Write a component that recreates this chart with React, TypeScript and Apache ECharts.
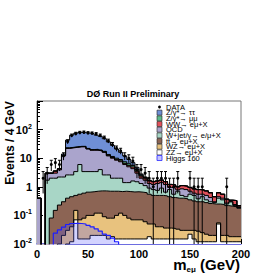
import React, { useEffect, useRef } from 'react';
import * as echarts from 'echarts';

// bin edges (GeV), 4 GeV bins
const edges = [0, 4, 8, 12, 16, 20, 24, 28, 32, 36, 40, 44, 48, 52, 56, 60, 64, 68, 72, 76, 80, 84, 88, 92, 96, 100,
  104, 108, 112, 116, 120, 124, 128, 132, 136, 140, 144, 148, 152, 156, 160, 164, 168, 172, 176, 180, 184, 188, 192, 196, 200];

// background components (events / bin), stacked bottom -> top
const zz = [0.001, 0.001, 0.001, 0.001, 0.001, 0.005, 0.008, 0.01, 0.012, 0.07, 0.015, 0.015, 0.015, 0.02, 0.02, 0.02, 0.02, 0.015, 0.018, 0.015,
  0.015, 0.015, 0.015, 0.015, 0.015, 0.015, 0.015, 0.018, 0.015, 0.015, 0.015, 0.015, 0.015, 0.015, 0.015, 0.015, 0.015, 0.022, 0.015, 0.012,
  0.012, 0.012, 0.012, 0.012, 0.05, 0.012, 0.012, 0.012, 0.012, 0.012];
const wz = [0, 0, 0, 0, 0.004, 0.005, 0.012, 0.02, 0.028, 0.08, 0.055, 0.065, 0.085, 0.08, 0.1, 0.1, 0.07, 0.065, 0.062, 0.085,
  0.105, 0.085, 0.065, 0.055, 0.055, 0.055, 0.045, 0.032, 0.035, 0.025, 0.025, 0.021, 0.021, 0.02, 0.018, 0.015, 0.015, 0.008, 0.015, 0.016,
  0.013, 0.01, 0.008, 0.008, 0.005, 0.008, 0.008, 0.006, 0.006, 0.006];
const ttbar = [0, 0, 0, 0.08, 0.145, 0.22, 0.28, 0.37, 0.41, 0.35, 0.48, 0.52, 0.55, 0.57, 0.58, 0.6, 0.63, 0.62, 0.62, 0.6,
  0.56, 0.6, 0.6, 0.59, 0.6, 0.58, 0.56, 0.5, 0.45, 0.46, 0.46, 0.444, 0.414, 0.385, 0.367, 0.37, 0.35, 0.32, 0.29, 0.272,
  0.275, 0.258, 0.24, 0.23, 0.195, 0.22, 0.2, 0.192, 0.182, 0.16];
const wjet = [0, 0, 1.7, 1.92, 1.85, 1.97, 1.9, 2.2, 2.15, 2.9, 5.45, 2.8, 2.75, 2.73, 2.7, 3.28, 1.88, 1.9, 1.3, 1.3,
  1.32, 0.7, 0.72, 0.94, 0.83, 0.65, 0.48, 0.35, 0.3, 0.25, 0.4, 0.17, 0.35, 0.13, 0.3, 0.1, 0.07, 0.2, 0.18, 0.08,
  0.15, 0.07, 0.04, 0.03, 0.15, 0.11, 0.03, 0.09, 0.02, 0.01];
const qcd = [0.4, 0, 1.3, 1.0, 1.0, 1.7, 9.8, 19.4, 20.4, 20.6, 19, 21.6, 17.6, 15.6, 15.6, 14, 13.4, 9.4, 8, 6.5,
  5.5, 4.6, 3.6, 2.7, 1.5, 0.7, 0.6, 0.4, 0.4, 0.55, 0.5, 0.55, 0.15, 0.35, 0.08, 0.35, 0.35, 0.15, 0.1, 0.17,
  0.1, 0.15, 0.12, 0.02, 0.05, 0.05, 0.02, 0, 0.02, 0.01];
const ww = [0, 0, 0, 0, 0.5, 0.3, 0.4, 0.5, 0.5, 0.5, 0.5, 0.5, 0.5, 0.5, 0.5, 0.6, 0.6, 0.6, 0.6, 0.6,
  0.6, 0.6, 0.6, 0.6, 0.5, 0.4, 0.3, 0.3, 0.3, 0.3, 0.3, 0.3, 0.25, 0.25, 0.22, 0.25, 0.25, 0.25, 0.25, 0.25,
  0.23, 0.22, 0.2, 0.15, 0.17, 0.15, 0.1, 0.04, 0.09, 0.02];
const zmumu = [0, 0, 0, 0, 0.1, 0.1, 0.4, 0.5, 0.5, 0.5, 0.5, 0.5, 0.5, 0.5, 1.0, 0.7, 0.8, 0.9, 0.9, 0.9,
  0.9, 0.9, 0.8, 0.7, 0.5, 0.2, 0.1, 0.05, 0.02, 0.02, 0.02, 0.01, 0.01, 0.01, 0, 0, 0, 0, 0, 0,
  0, 0, 0, 0, 0, 0, 0, 0, 0, 0];
const ztautau = [0, 0, 0, 0, 0, 0, 1.2, 20, 40, 50, 54, 52, 54, 52, 43.5, 38.7, 30.6, 23.5, 16.5, 11,
  7, 4.5, 2.6, 1.4, 0.8, 0.2, 0.1, 0.05, 0.03, 0.02, 0.02, 0.01, 0.01, 0.01, 0, 0, 0, 0, 0, 0,
  0, 0, 0, 0, 0, 0, 0, 0, 0, 0];
// signal, not stacked
const higgs160 = [0, 0, 0, 0, 0.024, 0.031, 0.039, 0.048, 0.052, 0.053, 0.052, 0.05, 0.045, 0.04, 0.034, 0.028, 0.022, 0.02, 0.016, 0.012,
  0, 0, 0, 0, 0, 0, 0, 0, 0, 0, 0, 0, 0, 0, 0, 0, 0, 0, 0, 0,
  0, 0, 0, 0, 0, 0, 0, 0, 0, 0];
// observed events per bin
const dataCounts = [0, 2, 3, 6, 7, 6, 12, 38, 62, 72, 78, 80, 76, 74, 70, 62, 52, 40, 30, 22,
  18, 12, 10, 8, 4, 4, 3, 2, 1, 2, 2, 2, 1, 1, 2, 0, 0, 2, 1, 1,
  1, 0, 0, 0, 0, 0, 1, 0, 0, 0];

const legendLabels = ['DATA', 'Z/γ*→ ττ', 'Z/γ*→ μμ', 'WW→ eμ+X', 'QCD', 'W+jet/γ→ e/μ+X', 'tt̄→ eμ+X', 'WZ→ eμ+X', 'ZZ→ eμ+X', 'Higgs 160'];
const xTicks = [0, 50, 100, 150, 200];

const FONT = '"Liberation Sans", Arial, Helvetica, sans-serif';

// stacking order bottom -> top
const layers = [
  { name: 'ZZ→ eμ+X', values: zz, color: '#ffffff' },
  { name: 'WZ→ eμ+X', values: wz, color: '#e8c27e' },
  { name: 'tt̄→ eμ+X', values: ttbar, color: '#8c6454' },
  { name: 'W+jet/γ→ e/μ+X', values: wjet, color: '#a8d6c6' },
  { name: 'QCD', values: qcd, color: '#aaa4cc' },
  { name: 'WW→ eμ+X', values: ww, color: '#e0505a' },
  { name: 'Z/γ*→ μμ', values: zmumu, color: '#5fba8c' },
  { name: 'Z/γ*→ ττ', values: ztautau, color: '#6f8fd6' },
];

const legendColors: Record<string, string> = {};
layers.forEach((l) => (legendColors[l.name] = l.color));

function stepPoints(arr: number[], floor = 0) {
  const f = (v: number) => (floor ? Math.max(v, floor) : v);
  const pts = arr.map((v, i) => [edges[i], f(v)]);
  pts.push([edges[edges.length - 1], f(arr[arr.length - 1])]);
  return pts;
}

export default function App() {
  const ref = useRef<HTMLDivElement>(null);
  useEffect(() => {
    const chart = echarts.init(ref.current!, null, { renderer: 'svg' });

    // running stack sums (log axes do not stack natively)
    const running = new Array(edges.length - 1).fill(0);
    const cumulative = layers.map((l) => {
      const c = l.values.map((v, i) => (running[i] += v));
      return { ...l, cum: c };
    });
    // paint top of stack first so lower layers overlay it
    const stacked = cumulative
      .slice()
      .reverse()
      .map((l) => ({
        type: 'line',
        name: l.name,
        step: 'end',
        symbol: 'none',
        clip: true,
        data: stepPoints(l.cum, 1e-4),
        lineStyle: { color: '#000', width: 1 },
        areaStyle: { color: l.color, opacity: 1, origin: 'start' },
        z: 2,
      }));

    const errData = dataCounts
      .map((n, i) => (n > 0 ? [edges[i] + 2, n, n - Math.sqrt(n), n + Math.sqrt(n)] : null))
      .filter((d) => d !== null);

    const legendY0 = 107;
    const legendDy = 5.67;
    const legendGraphics: any[] = [];
    legendLabels.forEach((lab, i) => {
      const y = legendY0 + i * legendDy;
      if (i === 0) {
        legendGraphics.push({ type: 'circle', shape: { cx: 159.5, cy: y, r: 1.4 }, style: { fill: '#000' }, z: 20 });
      } else if (lab === 'Higgs 160') {
        legendGraphics.push({ type: 'rect', shape: { x: 157, y: y - 2.5, width: 5, height: 5 }, style: { fill: '#c4c4ff', stroke: '#2a2aff', lineWidth: 0.8 }, z: 20 });
      } else {
        legendGraphics.push({ type: 'rect', shape: { x: 157, y: y - 2.5, width: 5, height: 5 }, style: { fill: legendColors[lab], stroke: '#222', lineWidth: 0.6 }, z: 20 });
      }
      legendGraphics.push({
        type: 'text', x: 166, y, z: 20,
        style: { text: lab, fontSize: 7.5, fontFamily: FONT, fill: '#000', verticalAlign: 'middle', align: 'left' },
      });
    });

    const option: any = {
      animation: false,
      backgroundColor: '#fff',
      grid: { left: 37, right: 25, top: 101, bottom: 29, show: true, borderColor: '#777', borderWidth: 1, backgroundColor: 'transparent', containLabel: false },
      xAxis: {
        type: 'value', min: 0, max: 200, interval: 50,
        axisLine: { show: true, lineStyle: { color: '#5a5ae8', width: 1.5 }, onZero: false },
        axisTick: { show: true, inside: true, length: 5, lineStyle: { color: '#000' } },
        minorTick: { show: true, splitNumber: 5, length: 3, lineStyle: { color: '#000' } },
        splitLine: { show: false },
        axisLabel: {
          color: '#000', fontSize: 11, fontWeight: 'bold', fontFamily: FONT, margin: 4,
          formatter: (v: number) => (xTicks.includes(v) ? String(v) : ''),
        },
      },
      yAxis: {
        type: 'log', logBase: 10, min: 0.01, max: 1000,
        axisLine: { show: true, lineStyle: { color: '#000', width: 1 } },
        axisTick: { show: true, inside: true, length: 6, lineStyle: { color: '#000' } },
        minorTick: { show: true, splitNumber: 9, length: 3, lineStyle: { color: '#000' } },
        splitLine: { show: false },
        axisLabel: {
          color: '#000', fontSize: 11, fontWeight: 'bold', fontFamily: FONT, margin: 5,
          formatter: (v: number) => {
            const e = Math.round(Math.log10(v));
            if (e === 0) return '{a|1}';
            if (e === 1) return '{a|10}';
            if (e >= 3) return '';
            return '{a|10}{b|' + e + '}';
          },
          rich: {
            a: { fontSize: 11, fontWeight: 'bold', fontFamily: FONT, color: '#000', lineHeight: 14 },
            b: { fontSize: 7, fontWeight: 'bold', fontFamily: FONT, color: '#000', verticalAlign: 'top', lineHeight: 14 },
          },
        },
      },
      series: [
        ...stacked,
        {
          type: 'line', name: 'Higgs 160', step: 'end', symbol: 'none', clip: true,
          data: stepPoints(higgs160, 1e-4),
          lineStyle: { color: '#1e1eff', width: 1.2 },
          areaStyle: { color: 'rgba(90,90,255,0.38)', origin: 'start' },
          z: 3,
        },
        {
          type: 'custom', name: 'DATA', clip: true, z: 5,
          data: errData,
          renderItem: (params: any, api: any) => {
            const x = api.value(0);
            const p = api.coord([x, api.value(1)]);
            const hi = api.coord([x, api.value(3)]);
            const lo = api.coord([x, Math.max(api.value(2), 1e-4)]);
            return {
              type: 'group',
              children: [
                { type: 'line', shape: { x1: p[0], y1: lo[1], x2: p[0], y2: hi[1] }, style: { stroke: '#000', lineWidth: 1 } },
                { type: 'line', shape: { x1: p[0] - 1.5, y1: hi[1], x2: p[0] + 1.5, y2: hi[1] }, style: { stroke: '#000', lineWidth: 1 } },
                { type: 'circle', shape: { cx: p[0], cy: p[1], r: 1.5 }, style: { fill: '#000' } },
              ],
            };
          },
        },
      ],
      graphic: [
        {
          type: 'text', x: 133, y: 94, z: 20,
          style: { text: 'DØ Run II Preliminary', fontSize: 9, fontWeight: 'bold', fontFamily: FONT, fill: '#000', align: 'center', verticalAlign: 'middle' },
        },
        {
          type: 'text', x: 10, y: 143, rotation: Math.PI / 2, z: 20,
          style: { text: 'Events / 4 GeV', fontSize: 12, fontWeight: 'bold', fontFamily: FONT, fill: '#000', align: 'center', verticalAlign: 'middle' },
        },
        {
          type: 'text', x: 240, y: 264, z: 20,
          style: {
            text: '{m|m}{s|eμ}{m| (GeV)}', align: 'right', verticalAlign: 'middle',
            rich: {
              m: { fontSize: 15, fontWeight: 'bold', fontFamily: FONT, fill: '#000', lineHeight: 18 },
              s: { fontSize: 8, fontWeight: 'bold', fontFamily: FONT, fill: '#000', verticalAlign: 'bottom', lineHeight: 18 },
            },
          },
        },
        ...legendGraphics,
      ],
    };
    chart.setOption(option);
    return () => chart.dispose();
  }, []);
  return <div ref={ref} style={{ position: 'fixed', left: 0, top: 0, width: 266, height: 273 }} />;
}
